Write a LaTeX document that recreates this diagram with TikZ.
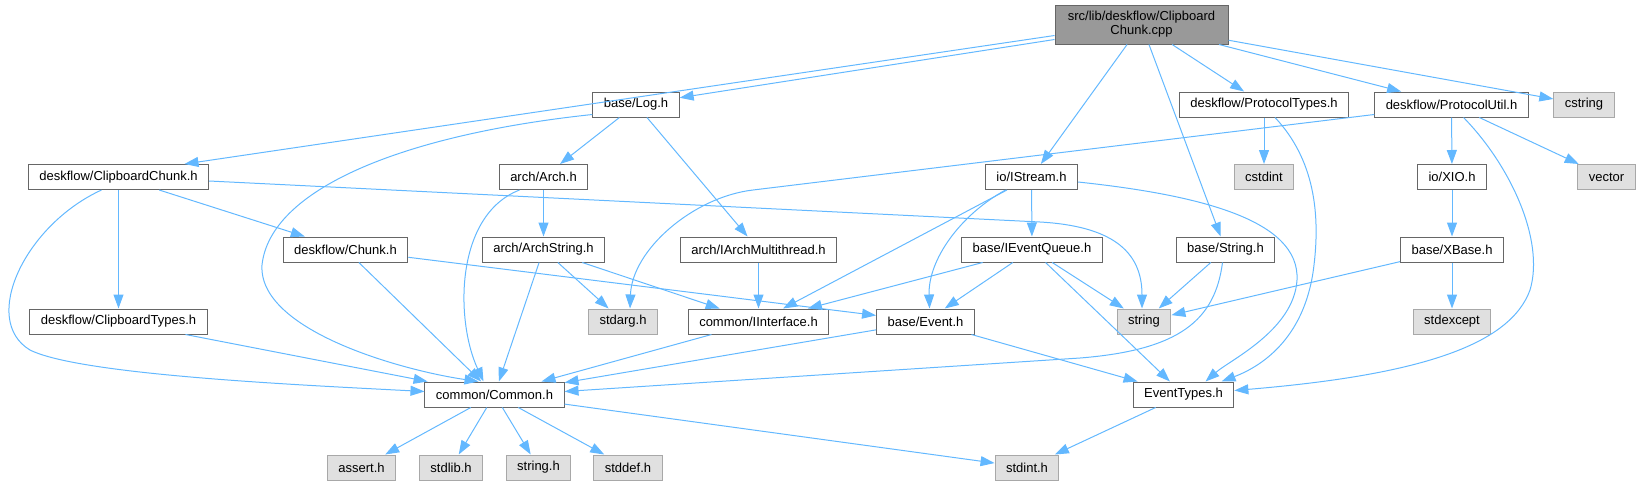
\documentclass[tikz,border=0pt]{standalone}
\usepackage{fontspec}
\setmainfont{Liberation Sans}
\usepackage{tikz}
\usetikzlibrary{arrows.meta,calc}
\definecolor{edgeblue}{HTML}{63B8FF}
\definecolor{boxline}{HTML}{666666}
\definecolor{sysline}{HTML}{A8A8A8}
\definecolor{sysfill}{HTML}{E0E0E0}
\definecolor{rootfill}{HTML}{999999}
\tikzset{
	hdr/.style={draw=boxline, fill=white, line width=1pt, minimum height=25pt,
		inner xsep=11pt, inner ysep=0pt, font=\fontsize{13}{14}\selectfont},
	sys/.style={hdr, draw=sysline, fill=sysfill},
	inc/.style={-{Triangle[length=14pt,width=10pt]}, draw=edgeblue, line width=1pt}
}

\begin{document}
\begin{tikzpicture}[x=1pt, y=-1pt,
			root/.style={hdr, fill=rootfill, minimum width=173pt,
				minimum height=39pt, align=center},
			]
			\useasboundingbox (0,0) rectangle (1640,485);
			
			%% -- the source file
			\node[root] (cpp) at (1141.5,24.5) {src/lib/deskflow/Clipboard\\Chunk.cpp};
			
			%% -- row 1
			\node[hdr] (log) at (636,104.5) {base/Log.h};
			\node[hdr] (ptypes) at (1264,104.5) {deskflow/ProtocolTypes.h};
			\node[hdr] (putil) at (1451.5,104.5) {deskflow/ProtocolUtil.h};
			\node[sys] (cstring) at (1584,104.5) {cstring};
			
			%% -- row 2
			\node[hdr] (cchunk) at (118.5,177) {deskflow/ClipboardChunk.h};
			\node[hdr] (arch) at (543.5,177) {arch/Arch.h};
			\node[hdr] (istream) at (1031.5,177) {io/IStream.h};
			\node[sys] (cstdint) at (1264,177) {cstdint};
			\node[hdr] (xio) at (1452,177) {io/XIO.h};
			\node[sys] (vector) at (1606.5,177) {vector};
			
			%% -- row 3
			\node[hdr] (chunk) at (345.5,249.5) {deskflow/Chunk.h};
			\node[hdr] (archstr) at (543.5,249.5) {arch/ArchString.h};
			\node[hdr] (iamt) at (758.5,249.5) {arch/IArchMultithread.h};
			\node[hdr] (ieq) at (1032,249.5) {base/IEventQueue.h};
			\node[hdr] (bstring) at (1225.5,249.5) {base/String.h};
			\node[hdr] (xbase) at (1452,249.5) {base/XBase.h};
			
			%% -- row 4
			\node[hdr] (ctypes) at (118.5,321.5) {deskflow/ClipboardTypes.h};
			\node[sys] (stdarg) at (623,321.5) {stdarg.h};
			\node[hdr] (iiface) at (758.5,321.5) {common/IInterface.h};
			\node[hdr] (event) at (925.5,321.5) {base/Event.h};
			\node[sys] (strg) at (1144,321.5) {string};
			\node[sys] (stdexc) at (1452,321.5) {stdexcept};
			
			%% -- row 5
			\node[hdr] (common) at (494.5,394.5) {common/Common.h};
			\node[hdr] (etypes) at (1183.5,394.5) {EventTypes.h};
			
			%% -- row 6
			\node[sys] (assert) at (361.5,467.5) {assert.h};
			\node[sys] (stdlib) at (451,467.5) {stdlib.h};
			\node[sys] (stringh) at (538.5,467.5) {string.h};
			\node[sys] (stddef) at (628,467.5) {stddef.h};
			\node[sys] (stdint) at (1027,467.5) {stdint.h};
			
			%% -- includes of the source file
			\draw[inc] ($(cpp.west)+(0,11)$) -- ($(cchunk.north)+(66,0)$);
			\draw[inc] ($(cpp.west)+(0,15)$) -- (log);
			\draw[inc] (cpp) -- (istream);
			\draw[inc] (cpp) -- (bstring);
			\draw[inc] (cpp) -- (ptypes);
			\draw[inc] (cpp) -- (putil);
			\draw[inc] (cpp) -- (cstring);
			
			%% -- base/Log.h
			\draw[inc] (log) -- (arch);
			\draw[inc] (log) -- (iamt);
			\draw[inc] ($(log.west)+(0,10)$) .. controls (400,135) and (270,190) .. (262,265)
			.. controls (258,330) and (400,370) .. ($(common.north)+(-16,0)$);
			
			%% -- deskflow/ClipboardChunk.h
			\draw[inc] (cchunk) -- (ctypes);
			\draw[inc] (cchunk) -- (chunk);
			\draw[inc] ($(cchunk.east)+(0,4)$) -- (1040,222)
			.. controls (1110,226) and (1142,250) .. ($(strg.north)+(-2,0)$);
			\draw[inc] ($(cchunk.south)+(-17,0)$) .. controls (25,225) and (-20,320) .. (30,350)
			.. controls (80,375) and (300,385) .. ($(common.west)+(0,-3)$);
			
			%% -- deskflow/Chunk.h, arch/...
			\draw[inc] (chunk) -- (common);
			\draw[inc] (chunk) -- (event);
			\draw[inc] (arch) -- (archstr);
			\draw[inc] ($(arch.south)+(-24,0)$) .. controls (455,215) and (455,320)
			.. ($(common.north)+(-11,0)$);
			\draw[inc] (archstr) -- (stdarg);
			\draw[inc] (archstr) -- (iiface);
			\draw[inc] (archstr) -- (common);
			\draw[inc] (iamt) -- (iiface);
			
			%% -- io/IStream.h
			\draw[inc] (istream) -- (ieq);
			\draw[inc] (istream) -- (iiface);
			\draw[inc] ($(istream.south)+(-26,0)$) .. controls (960,215) and (928,260)
			.. ($(event.north)+(4,0)$);
			\draw[inc] ($(istream.east)+(0,5)$) .. controls (1200,195) and (1300,220) .. (1297,280)
			.. controls (1294,330) and (1230,360) .. ($(etypes.north)+(22,0)$);
			
			%% -- deskflow/ProtocolTypes.h, deskflow/ProtocolUtil.h
			\draw[inc] (ptypes) -- (cstdint);
			\draw[inc] ($(ptypes.south)+(11,0)$) .. controls (1315,160) and (1320,215) .. (1314,265)
			.. controls (1306,335) and (1265,365) .. ($(etypes.north)+(38,0)$);
			\draw[inc] ($(putil.west)+(0,10)$) -- (753,190)
			.. controls (693,197) and (632,250) .. ($(stdarg.north)+(7,0)$);
			\draw[inc] (putil) -- (xio);
			\draw[inc] (putil) -- (vector);
			\draw[inc] ($(putil.south)+(12,0)$) .. controls (1510,165) and (1545,240) .. (1530,290)
			.. controls (1510,345) and (1420,375) .. ($(etypes.east)+(0,-4)$);
			
			%% -- base/IEventQueue.h, base/String.h, io/XIO.h, base/XBase.h
			\draw[inc] (ieq) -- (iiface);
			\draw[inc] (ieq) -- (event);
			\draw[inc] (ieq) -- (strg);
			\draw[inc] (ieq) -- (etypes);
			\draw[inc] (bstring) -- (strg);
			\draw[inc] ($(bstring.south)+(-3,0)$) .. controls (1215,320) and (1180,350) .. (1080,358)
			-- ($(common.east)+(0,-3)$);
			\draw[inc] (xio) -- (xbase);
			\draw[inc] (xbase) -- (stdexc);
			\draw[inc] (xbase) -- (strg);
			
			%% -- row 4 into row 5
			\draw[inc] (ctypes) -- (common);
			\draw[inc] (iiface) -- (common);
			\draw[inc] (event) -- (common);
			\draw[inc] (event) -- (etypes);
			
			%% -- system headers at the bottom
			\draw[inc] (common) -- (assert);
			\draw[inc] (common) -- (stdlib);
			\draw[inc] (common) -- (stringh);
			\draw[inc] (common) -- (stddef);
			\draw[inc] (common) -- (stdint);
			\draw[inc] (etypes) -- (stdint);
			
		\end{tikzpicture}
\end{document}
